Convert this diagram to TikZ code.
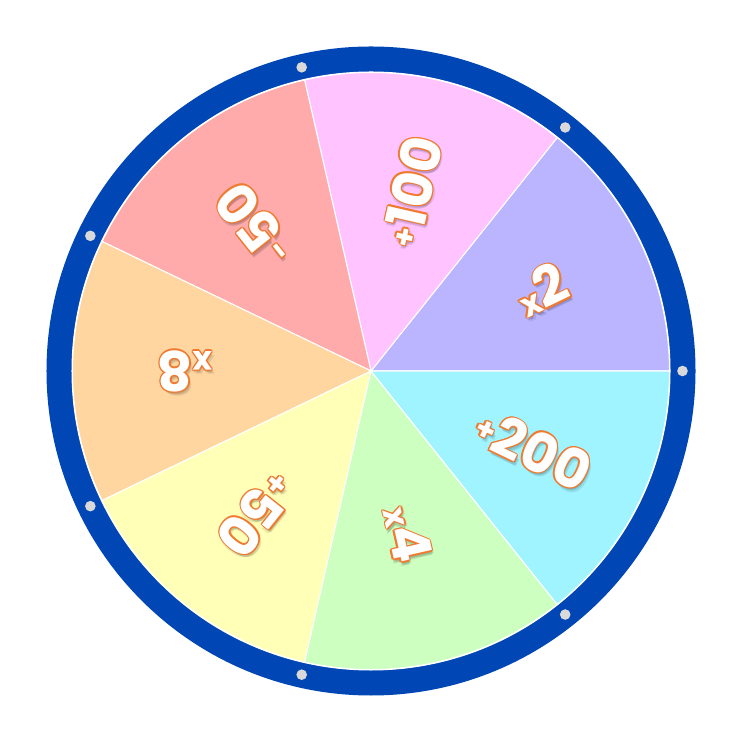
\documentclass[tikz,border=0pt]{standalone}
\usepackage{fontspec}
\setmainfont{Poppins}
\definecolor{ringblue}{HTML}{0047B5}
\definecolor{dotgray}{HTML}{D9D9D9}
\definecolor{outl}{HTML}{F07A30}
\definecolor{sA}{HTML}{BBB5FF}
\definecolor{sB}{HTML}{FFC4FF}
\definecolor{sC}{HTML}{FFABAB}
\definecolor{sD}{HTML}{FFD5A0}
\definecolor{sE}{HTML}{FFFFB8}
\definecolor{sF}{HTML}{CCFFC0}
\definecolor{sG}{HTML}{A0F4FF}
\newcommand\smallsign[1]{{\fontsize{18}{18}\selectfont\raisebox{3.5pt}{#1}}}
\newcommand\smallx{{\fontsize{19}{19}\selectfont x}}
\newcommand\oc[3]{\rlap{\kern#1\raisebox{#2}{\textcolor{outl}{#3}}}}
\newcommand\outlined[1]{\oc{0.8pt}{0pt}{#1}\oc{-0.8pt}{0pt}{#1}\oc{0pt}{0.8pt}{#1}\oc{0pt}{-0.8pt}{#1}\oc{0.57pt}{0.57pt}{#1}\oc{-0.57pt}{0.57pt}{#1}\oc{0.57pt}{-0.57pt}{#1}\oc{-0.57pt}{-0.57pt}{#1}\textcolor{white}{#1}}
\newcommand\softshadow[1]{\rlap{\kern0.6pt\raisebox{-0.6pt}{#1}}\rlap{\kern-0.6pt\raisebox{0.6pt}{#1}}#1}
\tikzset{
  lbl/.style={font=\fontsize{31}{31}\selectfont\bfseries, inner sep=0pt},
  shlbl/.style={lbl, text=black, text opacity=0.09},
  sector/.style={draw=white, line width=0.6pt, line join=round},
  pin/.style={fill=dotgray}
}
\begin{document}
\begin{tikzpicture}[x=0.02cm,y=0.02cm]
\useasboundingbox (-371,-371) rectangle (371,371);
% ring
\fill[ringblue] (0,0) circle (324.5);
\fill[white] (0,0) circle (299.5);
% sectors
\foreach \c [count=\i from 0] in {sA,sB,sC,sD,sE,sF,sG} {
  \filldraw[sector, fill=\c] (0,0) -- (\i*51.42857:298.5) arc[start angle=\i*51.42857, delta angle=51.42857, radius=298.5] -- cycle;
}
% pins
\foreach \i in {0,...,6} {
  \fill[pin] (\i*51.42857:311.5) circle (5.3);
}
% label shadows
\begin{scope}[shift={(1.5,-3.5)}]
\node[shlbl, rotate=-25.71] (s200) at (-25.71:180) {\softshadow{\smallsign{+}200}};
\node[shlbl, rotate=25.71] (s2) at (25.71:189) {\softshadow{\smallx 2}};
\node[shlbl, rotate=77.14] (s100) at (77.14:184) {\softshadow{\smallsign{+}100}};
\node[shlbl, rotate=128.57] (s50m) at (128.57:187) {\softshadow{\smallsign{-}50}};
\node[shlbl, rotate=180] (s8) at (180:186) {\softshadow{\smallx 8}};
\node[shlbl, rotate=231.43] (s50) at (231.43:183) {\softshadow{\smallsign{+}50}};
\node[shlbl, rotate=282.86] (s4) at (282.86:167) {\softshadow{\smallx 4}};
\end{scope}
% labels
\node[lbl, rotate=-25.71] (l200) at (-25.71:180) {\outlined{\smallsign{+}200}};
\node[lbl, rotate=25.71] (l2) at (25.71:189) {\outlined{\smallx 2}};
\node[lbl, rotate=77.14] (l100) at (77.14:184) {\outlined{\smallsign{+}100}};
\node[lbl, rotate=128.57] (l50m) at (128.57:187) {\outlined{\smallsign{-}50}};
\node[lbl, rotate=180] (l8) at (180:186) {\outlined{\smallx 8}};
\node[lbl, rotate=231.43] (l50) at (231.43:183) {\outlined{\smallsign{+}50}};
\node[lbl, rotate=282.86] (l4) at (282.86:167) {\outlined{\smallx 4}};
\end{tikzpicture}
\end{document}
